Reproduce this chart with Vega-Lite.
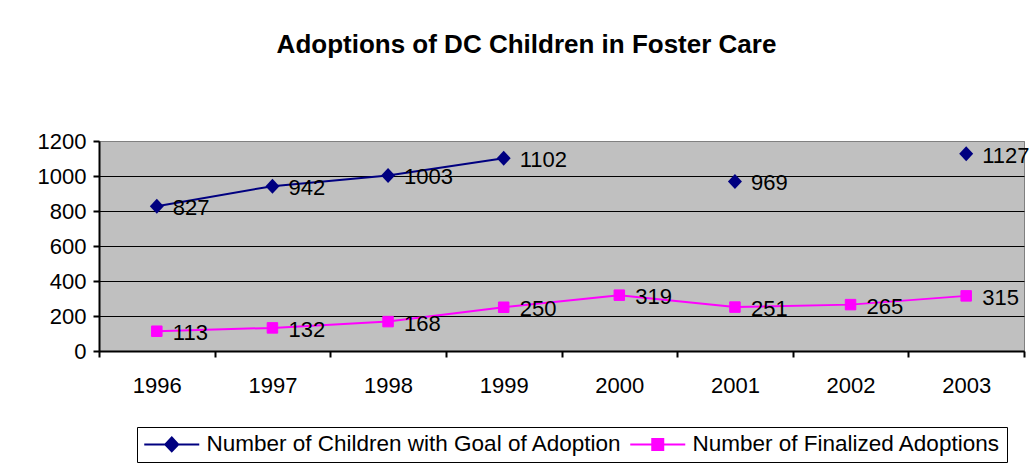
{
  "$schema": "https://vega.github.io/schema/vega-lite/v6.json",
  "autosize": {"type": "none"},
  "padding": {"left": 99, "top": 141, "right": 8, "bottom": 121},
  "width": 925,
  "height": 210,
  "background": "white",
  "title": {
    "text": "Adoptions of DC Children in Foster Care",
    "font": "Liberation Sans",
    "fontSize": 26,
    "fontWeight": "bold",
    "color": "black",
    "anchor": "middle",
    "frame": "group",
    "dx": -35,
    "baseline": "alphabetic",
    "offset": 51
  },
  "data": {
    "values": [
      {"year": "1996", "series": "Number of Children with Goal of Adoption", "value": 827},
      {"year": "1997", "series": "Number of Children with Goal of Adoption", "value": 942},
      {"year": "1998", "series": "Number of Children with Goal of Adoption", "value": 1003},
      {"year": "1999", "series": "Number of Children with Goal of Adoption", "value": 1102},
      {"year": "2000", "series": "Number of Children with Goal of Adoption", "value": null},
      {"year": "2001", "series": "Number of Children with Goal of Adoption", "value": 969},
      {"year": "2002", "series": "Number of Children with Goal of Adoption", "value": null},
      {"year": "2003", "series": "Number of Children with Goal of Adoption", "value": 1127},
      {"year": "1996", "series": "Number of Finalized Adoptions", "value": 113},
      {"year": "1997", "series": "Number of Finalized Adoptions", "value": 132},
      {"year": "1998", "series": "Number of Finalized Adoptions", "value": 168},
      {"year": "1999", "series": "Number of Finalized Adoptions", "value": 250},
      {"year": "2000", "series": "Number of Finalized Adoptions", "value": 319},
      {"year": "2001", "series": "Number of Finalized Adoptions", "value": 251},
      {"year": "2002", "series": "Number of Finalized Adoptions", "value": 265},
      {"year": "2003", "series": "Number of Finalized Adoptions", "value": 315}
    ]
  },
  "encoding": {
    "x": {
      "field": "year",
      "type": "ordinal",
      "scale": {"type": "band", "paddingInner": 0, "paddingOuter": 0},
      "axis": {
        "title": null,
        "labelAngle": 0,
        "tickBand": "extent",
        "grid": false,
        "domainColor": "black",
        "domainWidth": 2,
        "tickColor": "black",
        "tickWidth": 2,
        "tickSize": 6,
        "labelFont": "Liberation Sans",
        "labelFontSize": 22,
        "labelColor": "black",
        "labelPadding": 18
      }
    },
    "y": {
      "field": "value",
      "type": "quantitative",
      "scale": {"domain": [0, 1200], "nice": false, "zero": true},
      "axis": {
        "title": null,
        "values": [0, 200, 400, 600, 800, 1000, 1200],
        "format": "d",
        "grid": true,
        "gridColor": {"condition": {"test": "datum.value === 1200", "value": "#808080"}, "value": "black"},
        "gridWidth": 1,
        "gridOpacity": 1,
        "domainColor": "black",
        "domainWidth": 2,
        "tickColor": "black",
        "tickWidth": 2,
        "tickSize": 6,
        "labelFont": "Liberation Sans",
        "labelFontSize": 22,
        "labelColor": "black",
        "labelPadding": 7
      }
    }
  },
  "layer": [
    {
      "transform": [{"filter": "datum.series === 'Number of Children with Goal of Adoption'"}],
      "mark": {"type": "line", "color": "#000080", "strokeWidth": 2, "invalid": "break-paths-filter-domains"}
    },
    {
      "transform": [{"filter": "datum.series === 'Number of Finalized Adoptions'"}],
      "mark": {"type": "line", "color": "#FF00FF", "strokeWidth": 2}
    },
    {
      "transform": [{"filter": "datum.series === 'Number of Children with Goal of Adoption' && datum.value != null"}],
      "mark": {"type": "point", "shape": "M0,-1.07L1,0L0,1.07L-1,0Z", "size": 196, "filled": true, "fill": "#000080", "strokeWidth": 0, "opacity": 1}
    },
    {
      "transform": [{"filter": "datum.series === 'Number of Finalized Adoptions'"}],
      "mark": {"type": "point", "shape": "square", "size": 110, "filled": true, "fill": "#FF00FF", "stroke": "#FF00FF", "strokeWidth": 1, "opacity": 1}
    },
    {
      "transform": [{"filter": "datum.value != null"}],
      "mark": {"type": "text", "align": "left", "baseline": "middle", "dx": 16, "dy": 2, "font": "Liberation Sans", "fontSize": 22, "color": "black"},
      "encoding": {"text": {"field": "value", "type": "quantitative", "format": "d"}}
    },
    {
      "transform": [{"filter": "datum.value < 0"}],
      "mark": {"type": "point", "filled": true, "opacity": 1, "strokeWidth": 2},
      "encoding": {
        "fill": {
          "field": "series", "type": "nominal",
          "scale": {"domain": ["Number of Children with Goal of Adoption", "Number of Finalized Adoptions"], "range": ["#000080", "#FF00FF"]},
          "legend": {"title": null}
        },
        "stroke": {
          "field": "series", "type": "nominal",
          "scale": {"domain": ["Number of Children with Goal of Adoption", "Number of Finalized Adoptions"], "range": ["#000080", "#FF00FF"]},
          "legend": {"title": null}
        },
        "shape": {
          "field": "series", "type": "nominal",
          "scale": {"domain": ["Number of Children with Goal of Adoption", "Number of Finalized Adoptions"], "range": ["M-2.75,0L2.75,0M0,-0.7L0.65,0L0,0.7L-0.65,0Z", "M-2.75,0L2.75,0M-0.55,-0.55L0.55,-0.55L0.55,0.55L-0.55,0.55Z"]},
          "legend": {"title": null}
        }
      }
    }
  ],
  "config": {
    "font": "Liberation Sans",
    "view": {"fill": "#C0C0C0", "stroke": "#808080", "strokeWidth": 1},
    "legend": {
      "orient": "none",
      "legendX": 38,
      "legendY": 286,
      "direction": "horizontal",
      "columns": 2,
      "strokeColor": "black",
      "fillColor": "white",
      "padding": 6,
      "labelFont": "Liberation Sans",
      "labelFontSize": 22.5,
      "labelColor": "black",
      "labelLimit": 600,
      "symbolSize": 400,
      "symbolOffset": 17.5,
      "symbolStrokeWidth": 2,
      "symbolOpacity": 1,
      "labelOffset": 23.5,
      "columnPadding": 4
    }
  }
}
